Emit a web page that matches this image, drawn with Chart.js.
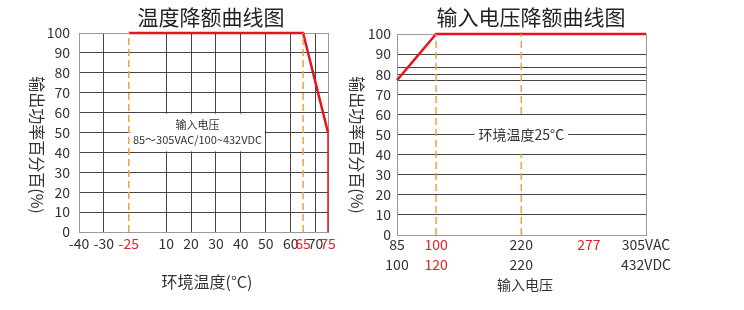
<!DOCTYPE html>
<html>
<head>
<meta charset="utf-8">
<script src="https://cdn.jsdelivr.net/npm/chart.js@4.4.1/dist/chart.umd.min.js"></script>
<style>
  html, body { margin: 0; padding: 0; background: #fff; }
  #wrap { position: relative; width: 744px; height: 310px; overflow: hidden; }
  #tempChart { position: absolute; left: 0; top: 0; width: 372px; height: 310px; }
  #voltChart { position: absolute; left: 340px; top: 0; width: 404px; height: 310px; }
</style>
</head>
<body>
<div id="wrap">
  <canvas id="tempChart" width="372" height="310"></canvas>
  <canvas id="voltChart" width="404" height="310"></canvas>
</div>
<script>
// --- temperature derating data ---
const tempTicks = [-40, -30, -25, 10, 20, 30, 40, 50, 60, 65, 70, 75];
const tempRedTicks = [-25, 65, 75];
const tempMarkers = [-25, 65];
const tempX = [-25, 65, 75];
const tempPower = [100, 100, 50];
const tempDropX = [75, 75];
const tempDropPower = [50, 0];
const tempNote = ['输入电压', '85～305VAC/100~432VDC'];

// --- input voltage derating data ---
const voltTicks = [85, 100, 220, 277, 305];
const voltAcLabels = ['85', '100', '220', '277', '305VAC'];
const voltDcLabels = ['100', '120', '220', '', '432VDC'];
const voltRedTicks = [100, 277];
const voltMarkers = [100, 220];
const voltX = [85, 100, 305];
const voltPower = [77, 100, 100];
const voltExtraGrid = [76.7, 83.3];
const voltNote = ['环境温度25°C'];

const powerTicks = [0, 10, 20, 30, 40, 50, 60, 70, 80, 90, 100];
const powerRange = [0, 100];

// where each axis value sits along the axis (0 = left edge, 1 = right edge);
// the original drawing does not space the temperatures/voltages evenly
const axisLayout = {
    temp: { values: tempTicks, at: [0, 2, 4, 7, 9, 11, 13, 15, 17, 18, 19, 20].map(s => s / 20) },
    volt: { values: voltTicks, at: [0, 0.157, 0.499, 0.771, 1] }
};

const fontFamily = '"Noto Sans CJK SC", "Noto Sans", sans-serif';
const textColor = '#333';
const redColor = '#e5202a';
const lineRed = '#e8131b';
const dashOrange = '#f2a040';
const gridDark = '#444';
const gridEdge = '#9a9a9a';

Chart.defaults.font.family = fontFamily;
Chart.defaults.font.size = 14;
Chart.defaults.color = textColor;

// linear scale with a piecewise mapping between anchor values
class PiecewiseScale extends Chart.LinearScale {
    anchors() {
        return axisLayout[this.options.anchorSet];
    }
    getPixelForValue(value) {
        if (value === null || value === undefined) return NaN;
        const { values, at } = this.anchors();
        let i = 0;
        while (i < values.length - 2 && value > values[i + 1]) i++;
        const t = (value - values[i]) / (values[i + 1] - values[i]);
        return this.getPixelForDecimal(at[i] + t * (at[i + 1] - at[i]));
    }
    getValueForPixel(pixel) {
        const { values, at } = this.anchors();
        const d = this.getDecimalForPixel(pixel);
        let i = 0;
        while (i < at.length - 2 && d > at[i + 1]) i++;
        return values[i] + (d - at[i]) / (at[i + 1] - at[i]) * (values[i + 1] - values[i]);
    }
}
PiecewiseScale.id = 'piecewise';
PiecewiseScale.defaults = Chart.LinearScale.defaults;
Chart.register(PiecewiseScale);

function pairs(xs, ys) {
    return xs.map((x, i) => ({ x: x, y: ys[i] }));
}

function markerLines(values) {
    return values.map(v => ({
        data: pairs([v, v], powerRange),
        borderColor: dashOrange,
        borderWidth: 1.5,
        borderDash: [7, 4]
    }));
}

// titles, rotated y title and the white note boxes
const labelPlugin = {
    id: 'labels',
    afterDatasetsDraw(chart, args, opts) {
        const { ctx } = chart;
        const x = chart.scales.x, y = chart.scales.y;
        const n = opts.note;
        ctx.save();
        ctx.font = n.size + 'px ' + fontFamily;
        const widest = Math.max(...n.lines.map(l => ctx.measureText(l).width));
        let left, right;
        if (n.xFrom !== undefined) {
            left = x.getPixelForValue(n.xFrom) + 1.5;
            right = x.getPixelForValue(n.xTo) - 1;
        } else {
            const cx = x.getPixelForValue(n.x);
            left = cx - widest / 2 - 4;
            right = cx + widest / 2 + 4;
        }
        const top = y.getPixelForValue(n.yTo) + 1;
        const bottom = y.getPixelForValue(n.yFrom) - 1;
        ctx.fillStyle = '#fff';
        ctx.fillRect(left, top, right - left, bottom - top);
        ctx.fillStyle = textColor;
        ctx.textAlign = 'center';
        ctx.textBaseline = 'middle';
        const cy = y.getPixelForValue(n.yMid);
        const first = cy - (n.lines.length - 1) * n.gap / 2;
        n.lines.forEach((l, i) => ctx.fillText(l, (left + right) / 2, first + i * n.gap));
        ctx.restore();
    },
    afterDraw(chart, args, opts) {
        const { ctx } = chart;
        ctx.save();
        ctx.textAlign = 'center';
        ctx.textBaseline = 'middle';
        ctx.fillStyle = '#222';
        ctx.font = '21px ' + fontFamily;
        ctx.fillText(opts.title, opts.titlePos[0], opts.titlePos[1]);
        ctx.fillStyle = textColor;
        ctx.font = opts.xTitleSize + 'px ' + fontFamily;
        ctx.fillText(opts.xTitle, opts.xTitlePos[0], opts.xTitlePos[1]);
        ctx.font = '16px ' + fontFamily;
        ctx.translate(opts.yTitlePos[0], opts.yTitlePos[1]);
        ctx.rotate(Math.PI / 2);
        ctx.fillText(opts.yTitle, 0, 0);
        ctx.restore();
    }
};

function baseOptions(padding) {
    return {
        responsive: false,
        animation: false,
        events: [],
        layout: { padding: padding },
        elements: { point: { radius: 0 }, line: { tension: 0 } },
        plugins: { legend: { display: false }, tooltip: { enabled: false } }
    };
}

function powerAxis(width, pad, extra) {
    return {
        min: 0,
        max: 100,
        afterFit: s => { s.width = width; },
        afterBuildTicks: s => {
            s.ticks = powerTicks.concat(extra).sort((a, b) => a - b).map(v => ({ value: v }));
        },
        border: { color: gridEdge },
        grid: {
            drawTicks: false,
            color: c => (c.tick.value === 0 || c.tick.value === 100) ? gridEdge : gridDark
        },
        ticks: {
            autoSkip: false,
            padding: pad,
            callback: v => powerTicks.includes(v) ? String(v) : ''
        }
    };
}

function finish(datasets) {
    return datasets.map(d => Object.assign({ showLine: true, fill: false, clip: false }, d));
}

// left: temperature derating
const tempOptions = baseOptions({ top: 33, right: 44, left: 0, bottom: 0 });
tempOptions.scales = {
    x: {
        type: 'piecewise',
        anchorSet: 'temp',
        min: -40,
        max: 75,
        afterFit: s => { s.height = 78; },
        afterBuildTicks: s => { s.ticks = tempTicks.map(v => ({ value: v })); },
        border: { color: gridEdge },
        grid: {
            drawTicks: false,
            color: c => {
                const v = c.tick.value;
                if (tempMarkers.includes(v)) return 'rgba(0,0,0,0)';
                if (v === tempTicks[0] || v === tempTicks[tempTicks.length - 1]) return gridEdge;
                return gridDark;
            }
        },
        ticks: {
            autoSkip: false,
            maxRotation: 0,
            padding: 3,
            callback: v => String(v),
            color: c => tempRedTicks.includes(c.tick.value) ? redColor : textColor
        }
    },
    y: powerAxis(79, 9, [])
};
tempOptions.plugins.labels = {
    title: '温度降额曲线图',
    titlePos: [211, 17],
    xTitle: '环境温度(°C)',
    xTitleSize: 16,
    xTitlePos: [207, 282],
    yTitle: '输出功率百分百(%)',
    yTitlePos: [37, 145],
    note: { lines: tempNote, size: 11, gap: 15, xFrom: -25, xTo: 50, yFrom: 40, yTo: 60, yMid: 50 }
};

new Chart(document.getElementById('tempChart'), {
    type: 'scatter',
    data: {
        datasets: finish([
            ...markerLines(tempMarkers),
            { data: pairs(tempDropX, tempDropPower), borderColor: lineRed, borderWidth: 1.5 },
            { data: pairs(tempX, tempPower), borderColor: lineRed, borderWidth: 2.5 }
        ])
    },
    options: tempOptions,
    plugins: [labelPlugin]
});

// right: input voltage derating
const voltOptions = baseOptions({ top: 34, right: 98, left: 0, bottom: 0 });
voltOptions.scales = {
    x: {
        type: 'piecewise',
        anchorSet: 'volt',
        min: 85,
        max: 305,
        afterFit: s => { s.height = 75; },
        afterBuildTicks: s => { s.ticks = voltTicks.map(v => ({ value: v })); },
        border: { color: gridEdge },
        grid: {
            drawTicks: false,
            color: c => {
                const v = c.tick.value;
                if (v === voltTicks[0] || v === voltTicks[voltTicks.length - 1]) return gridEdge;
                return 'rgba(0,0,0,0)';
            }
        },
        ticks: {
            autoSkip: false,
            maxRotation: 0,
            padding: 0,
            font: { size: 14, lineHeight: 1.43 },
            callback: v => {
                const i = voltTicks.indexOf(v);
                return [voltAcLabels[i], voltDcLabels[i]];
            },
            color: c => voltRedTicks.includes(c.tick.value) ? redColor : textColor
        }
    },
    y: powerAxis(57, 6, voltExtraGrid)
};
voltOptions.plugins.labels = {
    title: '输入电压降额曲线图',
    titlePos: [191, 17],
    xTitle: '输入电压',
    xTitleSize: 14,
    xTitlePos: [185, 285],
    yTitle: '输出功率百分百(%)',
    yTitlePos: [17, 145],
    note: { lines: voltNote, size: 14, gap: 15, x: 220, yFrom: 40, yTo: 60, yMid: 50 }
};

new Chart(document.getElementById('voltChart'), {
    type: 'scatter',
    data: {
        datasets: finish([
            ...markerLines(voltMarkers),
            { data: pairs(voltX, voltPower), borderColor: lineRed, borderWidth: 2.5 }
        ])
    },
    options: voltOptions,
    plugins: [labelPlugin]
});
</script>
</body>
</html>
